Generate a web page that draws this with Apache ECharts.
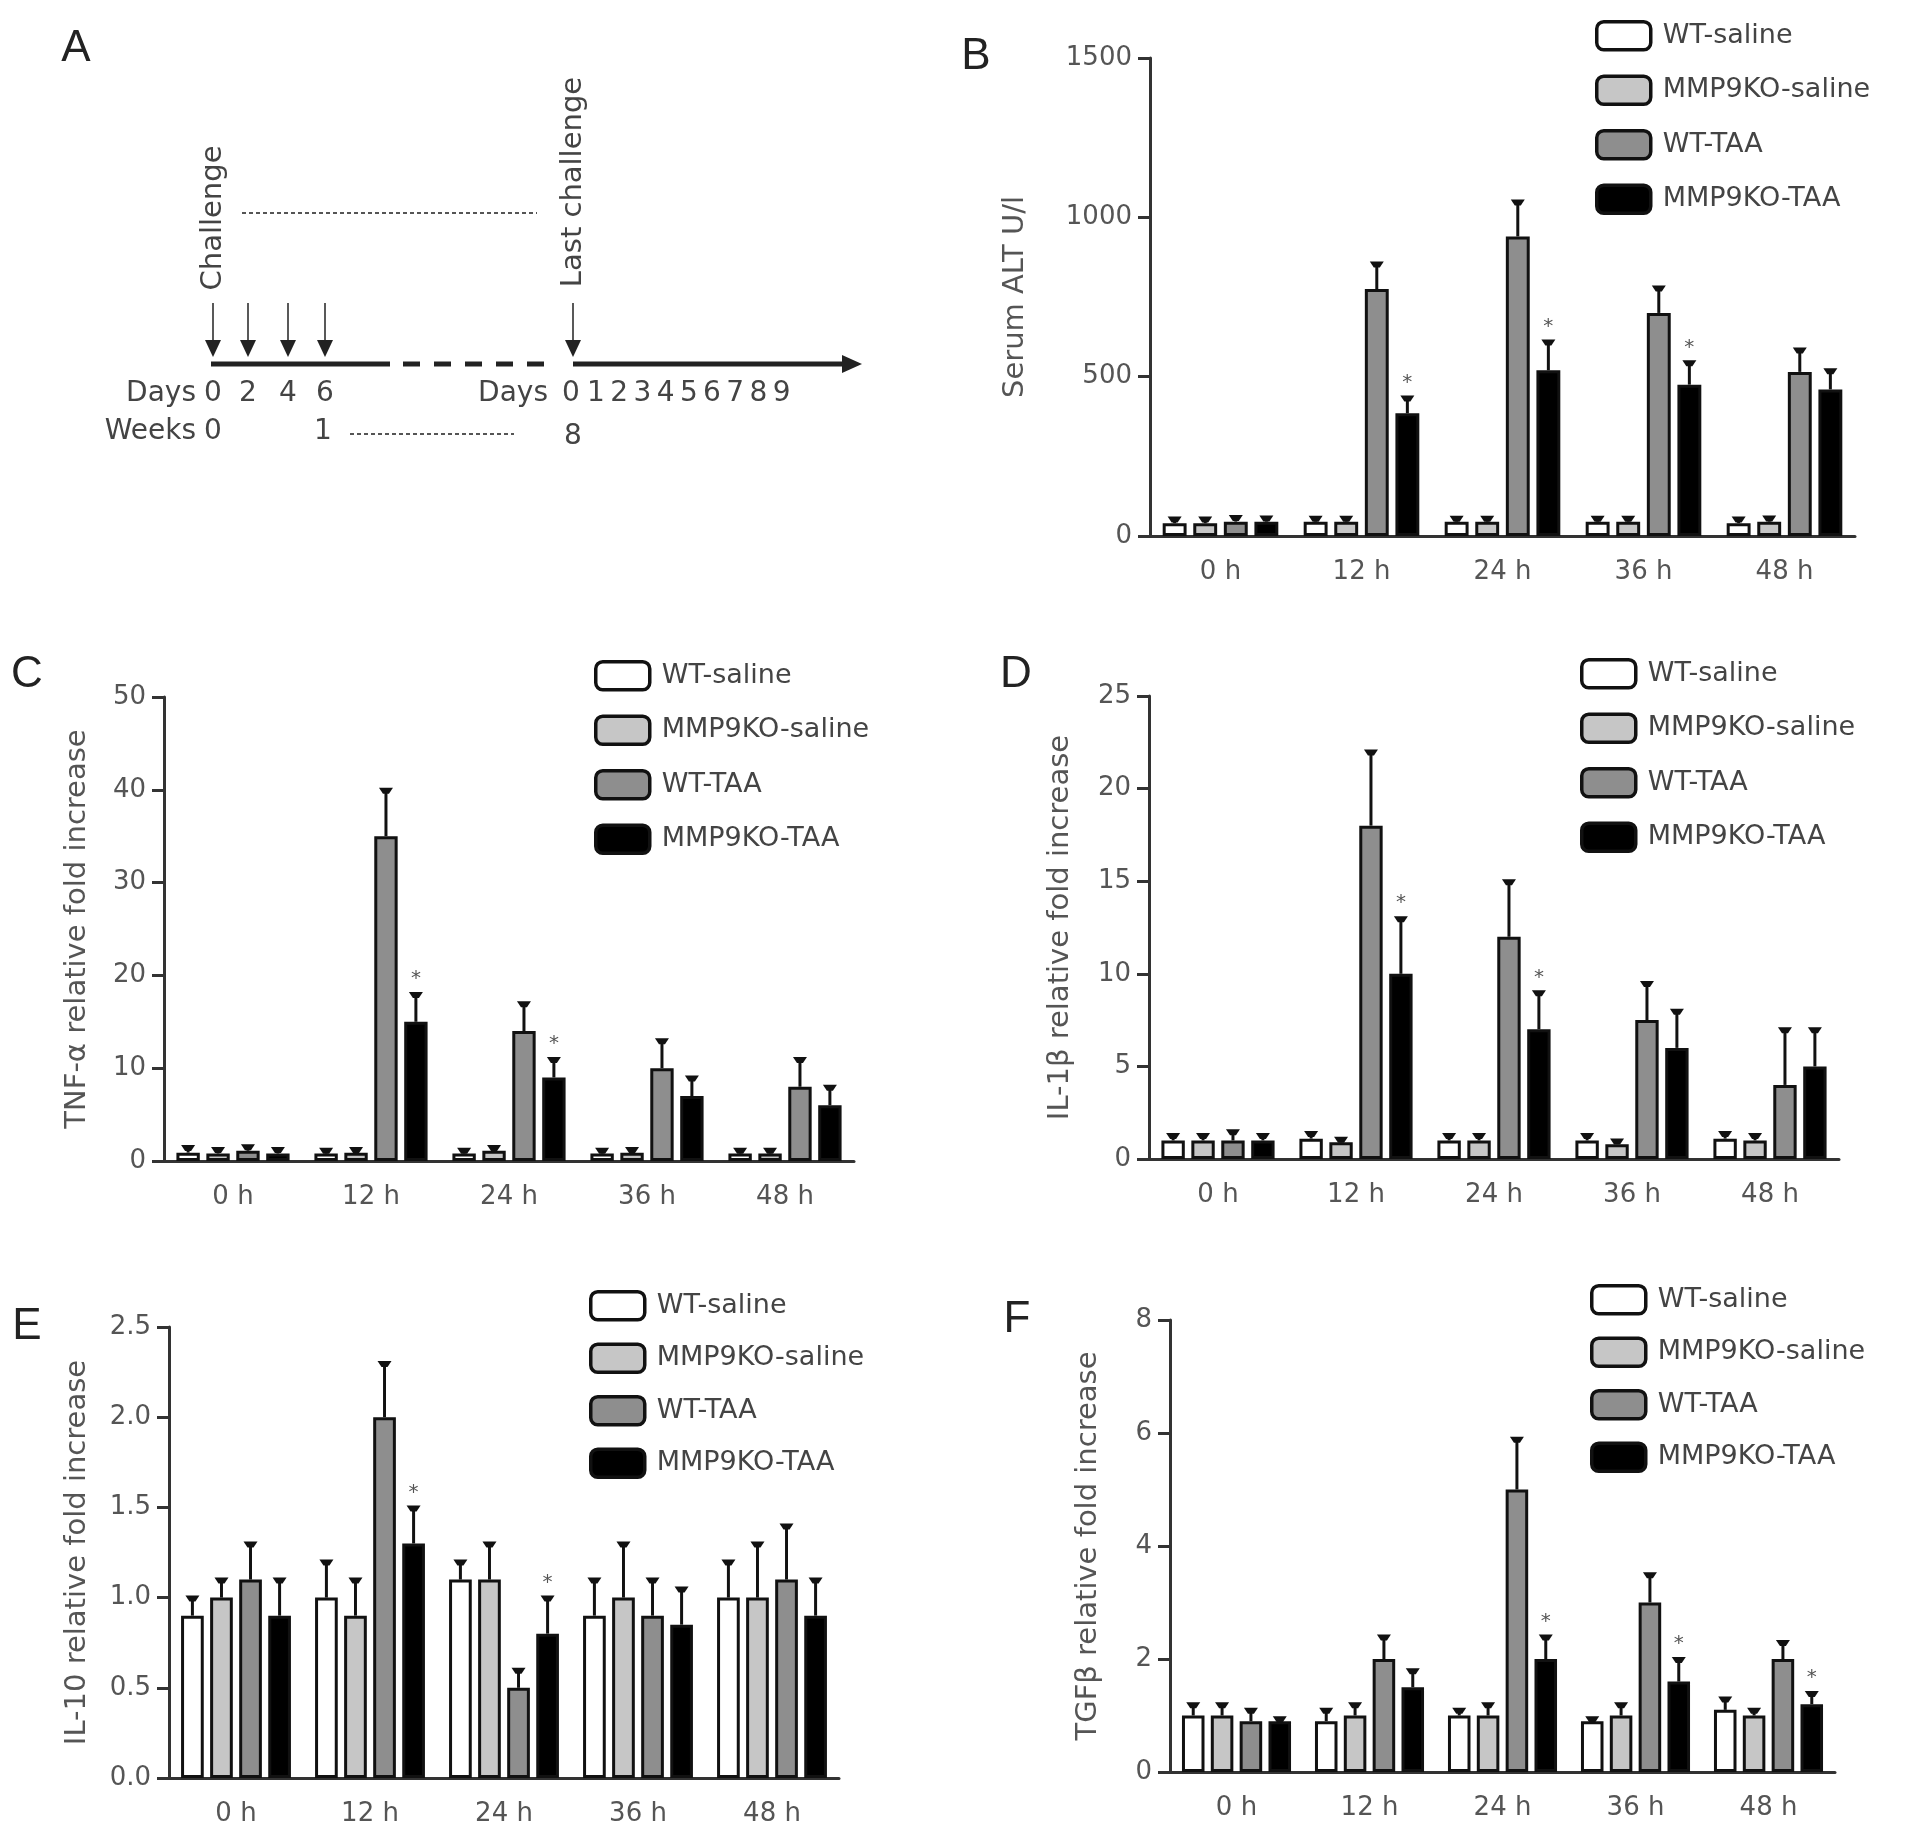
<!DOCTYPE html>
<html>
<head>
<meta charset="utf-8">
<script src="https://cdn.jsdelivr.net/npm/echarts@6/dist/echarts.min.js"></script>
<style>
  html, body { margin: 0; padding: 0; background: #fff; }
  #main { width: 1913px; height: 1834px; }
</style>
</head>
<body>
<div id="main"></div>
<script>
var hours = ["0 h", "12 h", "24 h", "36 h", "48 h"];
var groups = ["WT-saline", "MMP9KO-saline", "WT-TAA", "MMP9KO-TAA"];
var groupColors = ["#ffffff", "#c6c6c6", "#8e8e8e", "#000000"];

// B - serum ALT (mean and top of error bar, one row per group)
var altMean = [[40, 45, 45, 45, 40], [40, 45, 45, 45, 45], [45, 775, 940, 700, 515], [45, 385, 520, 475, 460]];
var altUpper = [[55, 57, 57, 57, 55], [55, 57, 57, 57, 58], [60, 855, 1050, 780, 585], [58, 435, 610, 545, 520]];
var altStars = [[3, 1], [3, 2], [3, 3]];

// C - TNF-alpha
var tnfMean = [[0.9, 0.8, 0.8, 0.8, 0.8], [0.8, 0.9, 1.1, 0.9, 0.8], [1.1, 35, 14, 10, 8], [0.8, 15, 9, 7, 6]];
var tnfUpper = [[1.5, 1.2, 1.2, 1.2, 1.2], [1.3, 1.3, 1.5, 1.3, 1.2], [1.6, 40, 17, 13, 11], [1.3, 18, 11, 9, 8]];
var tnfStars = [[3, 1], [3, 2]];

// D - IL-1beta
var il1Mean = [[1.0, 1.1, 1.0, 1.0, 1.1], [1.0, 0.9, 1.0, 0.8, 1.0], [1.0, 18, 12, 7.5, 4], [1.0, 10, 7, 6, 5]];
var il1Upper = [[1.3, 1.4, 1.3, 1.3, 1.4], [1.3, 1.1, 1.3, 1.0, 1.3], [1.5, 22, 15, 9.5, 7], [1.3, 13, 9, 8, 7]];
var il1Stars = [[3, 1], [3, 2]];

// E - IL-10
var il10Mean = [[0.9, 1.0, 1.1, 0.9, 1.0], [1.0, 0.9, 1.1, 1.0, 1.0], [1.1, 2.0, 0.5, 0.9, 1.1], [0.9, 1.3, 0.8, 0.85, 0.9]];
var il10Upper = [[1.0, 1.2, 1.2, 1.1, 1.2], [1.1, 1.1, 1.3, 1.3, 1.3], [1.3, 2.3, 0.6, 1.1, 1.4], [1.1, 1.5, 1.0, 1.05, 1.1]];
var il10Stars = [[3, 1], [3, 2]];

// F - TGF-beta
var tgfMean = [[1.0, 0.9, 1.0, 0.9, 1.1], [1.0, 1.0, 1.0, 1.0, 1.0], [0.9, 2.0, 5.0, 3.0, 2.0], [0.9, 1.5, 2.0, 1.6, 1.2]];
var tgfUpper = [[1.2, 1.1, 1.1, 0.95, 1.3], [1.2, 1.2, 1.2, 1.2, 1.1], [1.1, 2.4, 5.9, 3.5, 2.3], [0.95, 1.8, 2.4, 2.0, 1.4]];
var tgfStars = [[3, 2], [3, 3], [3, 4]];

var FONT = "DejaVu Sans";
var CAT_GAP = 0.18;
var BAR_GAP = 0.28;

var panels = [
  { letter: "B", mean: altMean, upper: altUpper, stars: altStars, max: 1500, interval: 500, dec: 0,
    name: "Serum ALT U/l", nameGap: 120,
    grid: { left: 1150, top: 58, width: 705, height: 478 },
    legend: { left: 1590, top: 15, gap: 23 }, letterPos: [976, 57] },
  { letter: "C", mean: tnfMean, upper: tnfUpper, stars: tnfStars, max: 50, interval: 10, dec: 0,
    name: "TNF-\u03b1 relative fold increase", nameGap: 72,
    grid: { left: 164, top: 697, width: 690, height: 464 },
    legend: { left: 589, top: 655, gap: 23 }, letterPos: [27, 675] },
  { letter: "D", mean: il1Mean, upper: il1Upper, stars: il1Stars, max: 25, interval: 5, dec: 0,
    name: "IL-1\u03b2 relative fold increase", nameGap: 74,
    grid: { left: 1149, top: 696, width: 690, height: 463 },
    legend: { left: 1575, top: 653, gap: 23 }, letterPos: [1016, 675] },
  { letter: "E", mean: il10Mean, upper: il10Upper, stars: il10Stars, max: 2.5, interval: 0.5, dec: 1,
    name: "IL-10 relative fold increase", nameGap: 77,
    grid: { left: 169, top: 1327, width: 670, height: 451 },
    legend: { left: 584, top: 1285, gap: 21 }, letterPos: [27, 1327] },
  { letter: "F", mean: tgfMean, upper: tgfUpper, stars: tgfStars, max: 8, interval: 2, dec: 0,
    name: "TGF\u03b2 relative fold increase", nameGap: 67,
    grid: { left: 1170, top: 1320, width: 665, height: 452 },
    legend: { left: 1585, top: 1279, gap: 21 }, letterPos: [1017, 1320] }
];

function errorRender(params, api) {
  var cat = api.value(0), mean = api.value(1), up = api.value(2), g = api.value(3), star = api.value(4);
  var band = api.size([1, 0])[0];
  var w = band * (1 - CAT_GAP) / (4 + 3 * BAR_GAP);
  var cx = api.coord([cat, 0])[0] + (g - 1.5) * w * (1 + BAR_GAP);
  var y0 = api.coord([cat, mean])[1];
  var y1 = api.coord([cat, up])[1];
  var kids = [
    { type: "line", shape: { x1: cx, y1: y0, x2: cx, y2: y1 }, style: { stroke: "#111", lineWidth: 3 } },
    { type: "polygon", shape: { points: [[cx - 7, y1 - 2], [cx + 7, y1 - 2], [cx + 3, y1 + 4], [cx - 3, y1 + 4]] },
      style: { fill: "#111" } }
  ];
  if (star) {
    kids.push({ type: "text", x: cx, y: y1 - 5,
      style: { text: "*", fill: "#555", font: "20px " + FONT, align: "center", verticalAlign: "bottom" } });
  }
  return { type: "group", children: kids };
}

var grids = [], xAxes = [], yAxes = [], legends = [], series = [];
var axisColor = "#333";

panels.forEach(function (p, k) {
  grids.push({ left: p.grid.left, top: p.grid.top, width: p.grid.width, height: p.grid.height,
    containLabel: false, outerBoundsMode: "none" });
  xAxes.push({
    type: "category", gridIndex: k, data: hours,
    axisLine: { lineStyle: { color: axisColor, width: 3 } },
    axisTick: { alignWithLabel: true, length: 12, lineStyle: { color: axisColor, width: 3 } },
    axisLabel: { color: "#555", fontSize: 26, fontFamily: FONT, margin: 23 }
  });
  yAxes.push({
    type: "value", gridIndex: k, min: 0, max: p.max, interval: p.interval,
    splitLine: { show: false },
    axisLine: { show: true, lineStyle: { color: axisColor, width: 3 } },
    axisTick: { show: true, length: 12, lineStyle: { color: axisColor, width: 3 } },
    axisLabel: { color: "#555", fontSize: 26, fontFamily: FONT, margin: 18,
      formatter: (function (d) { return function (v) { return v.toFixed(d); }; })(p.dec) },
    name: p.name, nameLocation: "middle", nameGap: p.nameGap, nameMoveOverlap: false,
    nameTextStyle: { color: "#555", fontSize: 29, fontFamily: FONT }
  });
  legends.push({
    data: groups, orient: "vertical", left: p.legend.left, top: p.legend.top,
    itemWidth: 54, itemHeight: 28, itemGap: p.legend.gap, icon: "roundRect", selectedMode: false,
    itemStyle: { borderColor: "#111", borderWidth: 3.5 },
    textStyle: { color: "#444", fontSize: 27, fontFamily: FONT, lineHeight: 28, padding: [0, 0, 0, 7] }
  });
  groups.forEach(function (g, gi) {
    series.push({
      type: "bar", name: g, xAxisIndex: k, yAxisIndex: k, data: p.mean[gi],
      barGap: Math.round(BAR_GAP * 100) + "%", barCategoryGap: Math.round(CAT_GAP * 100) + "%",
      itemStyle: { color: groupColors[gi], borderColor: "#111", borderWidth: 3 },
      silent: true, animation: false
    });
  });
  var errData = [];
  groups.forEach(function (g, gi) {
    hours.forEach(function (h, hi) {
      var starred = p.stars.some(function (s) { return s[0] === gi && s[1] === hi; }) ? 1 : 0;
      errData.push([hi, p.mean[gi][hi], p.upper[gi][hi], gi, starred]);
    });
  });
  series.push({
    type: "custom", name: "err" + p.letter, xAxisIndex: k, yAxisIndex: k,
    renderItem: errorRender, data: errData, encode: { x: 0, y: 2 },
    silent: true, animation: false, z: 5
  });
});

// panel letters
var graphics = [{ type: "text", x: 76, y: 49, style: { text: "A", font: "44px Liberation Sans", fill: "#222", align: "center", verticalAlign: "middle" } }];
panels.forEach(function (p) {
  graphics.push({ type: "text", x: p.letterPos[0], y: p.letterPos[1],
    style: { text: p.letter, font: "44px Liberation Sans", fill: "#222", align: "center", verticalAlign: "middle" } });
});

// panel A: challenge schedule diagram
var ink = "#222", txt = "#444";
function arrowDown(x, yTop, yTip) {
  graphics.push({ type: "line", shape: { x1: x, y1: yTop, x2: x, y2: yTip - 12 }, style: { stroke: ink, lineWidth: 1.5 } });
  graphics.push({ type: "polygon", shape: { points: [[x - 8, yTip - 17], [x + 8, yTip - 17], [x, yTip]] }, style: { fill: ink } });
}
function label(t, x, y, align, size) {
  graphics.push({ type: "text", x: x, y: y,
    style: { text: t, font: (size || 28) + "px " + FONT, fill: txt, align: align || "center", verticalAlign: "middle" } });
}
[213, 248, 288, 325, 573].forEach(function (x) { arrowDown(x, 303, 357); });
graphics.push({ type: "line", shape: { x1: 211, y1: 364, x2: 390, y2: 364 }, style: { stroke: ink, lineWidth: 5 } });
graphics.push({ type: "line", shape: { x1: 403, y1: 364, x2: 556, y2: 364 }, style: { stroke: ink, lineWidth: 5, lineDash: [17, 14] } });
graphics.push({ type: "line", shape: { x1: 573, y1: 364, x2: 846, y2: 364 }, style: { stroke: ink, lineWidth: 5 } });
graphics.push({ type: "polygon", shape: { points: [[842, 355], [842, 373], [862, 364]] }, style: { fill: ink } });
graphics.push({ type: "line", shape: { x1: 242, y1: 213, x2: 537, y2: 213 }, style: { stroke: "#555", lineWidth: 2, lineDash: [4, 3] } });
graphics.push({ type: "line", shape: { x1: 350, y1: 434, x2: 514, y2: 434 }, style: { stroke: "#555", lineWidth: 2, lineDash: [4, 3] } });
graphics.push({ type: "text", x: 213, y: 218, rotation: Math.PI / 2,
  style: { text: "Challenge", font: "29px " + FONT, fill: txt, align: "center", verticalAlign: "middle" } });
graphics.push({ type: "text", x: 573, y: 182, rotation: Math.PI / 2,
  style: { text: "Last challenge", font: "29px " + FONT, fill: txt, align: "center", verticalAlign: "middle" } });
label("Days", 196, 394, "right");
label("0", 213, 394); label("2", 248, 394); label("4", 288, 394); label("6", 325, 394);
label("Weeks", 196, 432, "right");
label("0", 213, 432); label("1", 323, 432); label("8", 573, 437);
label("Days", 548, 394, "right");
label("0", 571, 394);
["1", "2", "3", "4", "5", "6", "7", "8", "9"].forEach(function (d, i) { label(d, 596 + i * 23.2, 394); });

var myChart = echarts.init(document.getElementById("main"));
myChart.setOption({
  animation: false,
  grid: grids,
  xAxis: xAxes,
  yAxis: yAxes,
  legend: legends,
  series: series,
  graphic: graphics
});
</script>
</body>
</html>
